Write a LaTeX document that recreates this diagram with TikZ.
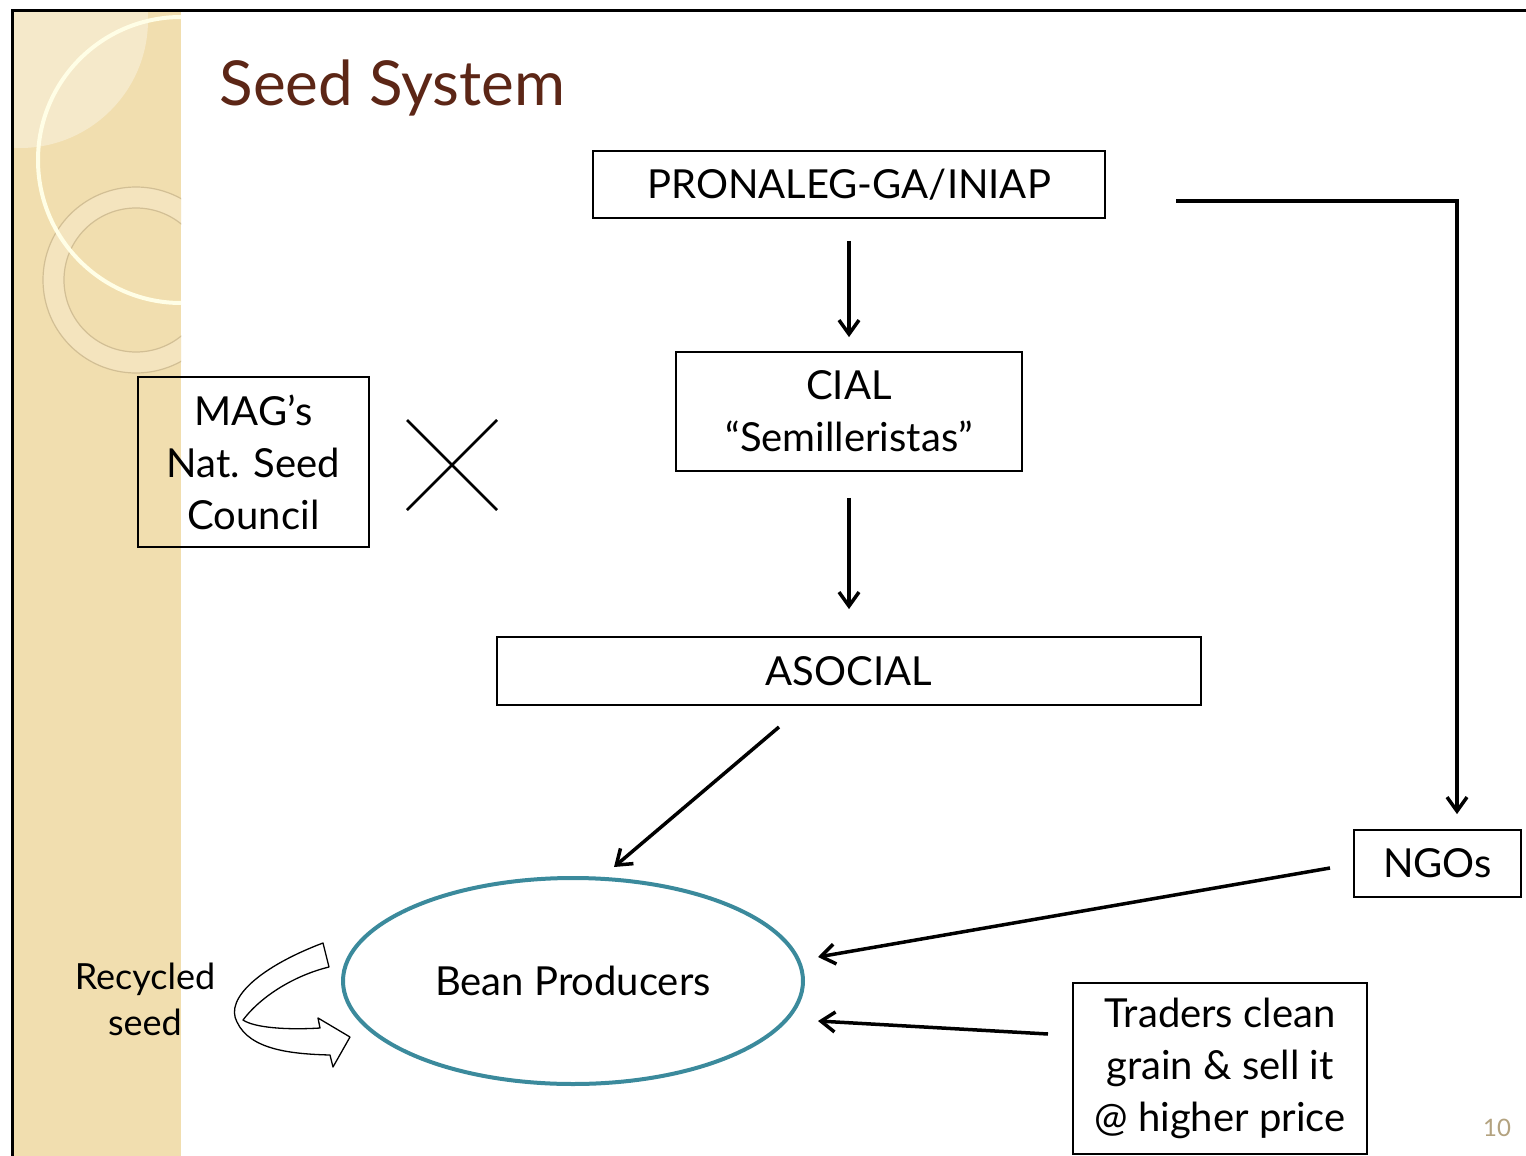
\documentclass[tikz,border=0pt]{standalone}
\usepackage{fontspec}
\setmainfont{Lato}
\usetikzlibrary{arrows.meta,shapes.geometric}
\definecolor{titlebrown}{HTML}{5C2616}
\definecolor{panelbeige}{HTML}{F1DEAF}
\definecolor{ringfill}{HTML}{F4E4BE}
\definecolor{ringline}{HTML}{D2BF95}
\definecolor{ovalteal}{HTML}{3B8A9C}
\definecolor{pagegrey}{HTML}{B3A27F}

\begin{document}
\begin{tikzpicture}[x=1pt,y=-1pt]
            \tikzset{box/.style = {shape=rectangle,draw,line width=1.8pt,align=center,inner sep=0pt,font=\fontsize{40}{52}\selectfont}}
            \tikzset{edge/.style = {->,> = {Straight Barb[length=14pt,width=20pt,line width=3.5pt]},line width=3.5pt}}
            \useasboundingbox (0,0) rectangle (1526,1156);
            \fill[white] (0,0) rectangle (1526,1156);

            % side panel
            \begin{scope}
                \clip (13,12) rectangle (181,1156);
                \fill[panelbeige] (13,12) rectangle (181,1156);
                \fill[white,opacity=0.35] (20,20) circle (128);
                \fill[ringfill,even odd rule] (136,280) circle (93) (136,280) circle (72);
                \draw[ringline,line width=1.2pt] (136,280) circle (93) (136,280) circle (72);
                \draw[white!90!yellow,line width=4pt] (181,160) circle (143);
            \end{scope}
            \draw[line width=3pt] (12,1156) -- (12,11) -- (1526,11);

            \node[anchor=base west,text=titlebrown,font=\fontsize{62}{70}\selectfont] (title) at (216,105) {Seed System};

            \node[box,minimum width=512pt,minimum height=67pt] (pron) at (849,184.5) {PRONALEG-GA/INIAP};
            \node[box,minimum width=346pt,minimum height=119pt] (cial) at (849,411.5) {CIAL\\``Semilleristas''};
            \node[box,minimum width=231pt,minimum height=170pt] (mag) at (253.5,462) {MAG’s\\Nat. Seed\\Council};
            \node[box,minimum width=704pt,minimum height=68pt] (asoc) at (849,671) {ASOCIAL};
            \node[box,minimum width=167pt,minimum height=67pt] (ngo) at (1437.5,863.5) {NGOs};
            \node[box,minimum width=294pt,minimum height=171pt] (trad) at (1220,1068.5) {Traders clean\\grain \& sell it\\@ higher price};
            \node[ellipse,draw=ovalteal,line width=4pt,minimum width=460pt,minimum height=206pt,inner sep=0pt,font=\fontsize{40}{52}\selectfont] (bean) at (573,981) {Bean Producers};
            \node[align=center,font=\fontsize{36}{46}\selectfont] (recyc) at (145,999) {Recycled\\seed};
            \node[text=pagegrey,font=\fontsize{24}{28}\selectfont] (page) at (1497,1128) {10};

            % not linked
            \draw[line width=2.5pt] (407,420) -- (497,510) (407,510) -- (497,420);

            \coordinate (asocout) at (779,727);
            \coordinate (beantop) at (614,867);
            \coordinate (ngoline) at (1176,201);
            \coordinate (ngoout) at (1330,868);
            \coordinate (beanright) at (818,957);
            \coordinate (tradout) at (1048,1034);
            \coordinate (beanlow) at (818,1021);

            \draw[edge,shorten <=22pt,shorten >=14pt] (pron) to (cial);
            \draw[edge,shorten <=26pt,shorten >=27pt] (cial) to (asoc);
            \draw[edge] (asocout) to (beantop);
            \draw[edge,line width=4pt] (ngoline) -| ([xshift=19.5pt,yshift=15pt]ngo.north);
            \draw[edge] (ngoout) to (beanright);
            \draw[edge] (tradout) to (beanlow);

            % recycled seed arrow
            \draw[fill=white,line width=1.3pt,line join=round]
                (323,943) .. controls (262,966) and (224,998) .. (237,1022)
                .. controls (250,1050) and (292,1054) .. (330,1055)
                -- (333,1067) -- (350,1037) -- (318,1018) -- (320,1028)
                .. controls (288,1030) and (255,1028) .. (243,1020)
                .. controls (262,995) and (296,975) .. (329,967) -- cycle;
        \end{tikzpicture}
\end{document}
